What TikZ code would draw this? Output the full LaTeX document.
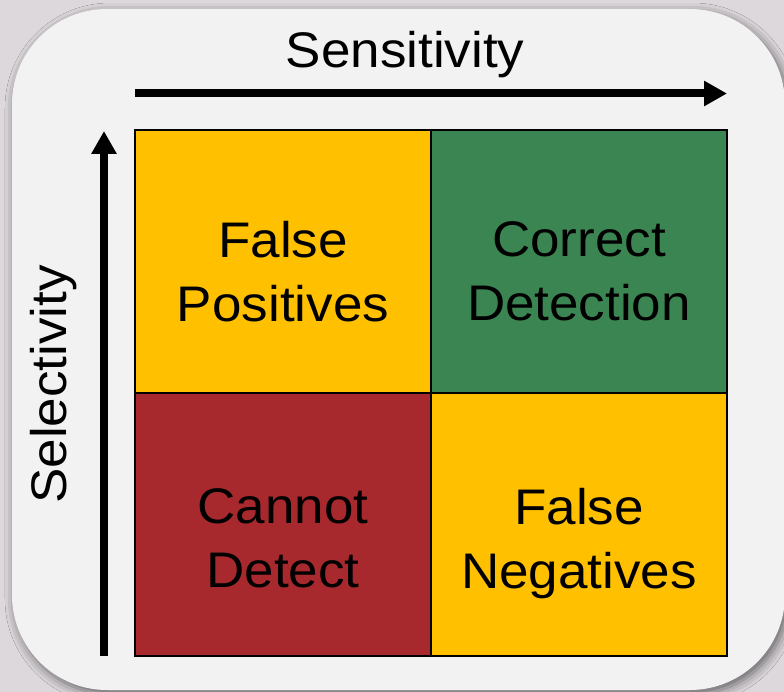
\documentclass[tikz,border=0pt]{standalone}
\usepackage{fontspec}
\setmainfont{Liberation Sans}[FakeStretch=1.06]
\usepackage{tikz}
\usetikzlibrary{positioning}
\usetikzlibrary{arrows.meta}
\usetikzlibrary{shadows.blur}
\definecolor{pagegray}{RGB}{220,216,220}
\definecolor{cardgray}{RGB}{242,242,242}
\definecolor{amber}{RGB}{255,192,0}
\definecolor{okgreen}{RGB}{59,133,83}
\definecolor{badred}{RGB}{168,41,45}
\tikzset{
  mycard/.style={
    draw=none,
    fill=cardgray,
    shape=rectangle,
    rounded corners=95pt,
    minimum width=773pt,
    minimum height=681pt,
    blur shadow={shadow xshift=3pt, shadow yshift=-4pt, shadow blur radius=10pt, shadow opacity=55},
  },
  mycell/.style={
    draw=black,
    line width=1.5pt,
    shape=rectangle,
    inner sep=0pt,
    outer sep=0pt,
    minimum width=296pt,
    minimum height=263pt,
  },
  mytext/.style={
    align=center,
    text depth=0pt,
    inner sep=0pt,
    font=\fontsize{50}{64}\selectfont,
  },
  myaxis/.style={
    inner sep=0pt,
    font=\fontsize{50}{64}\selectfont,
  },
  myarrow/.style={
    draw=black,
    line width=8pt,
    -{Triangle[length=23pt,width=24pt]},
  },
}

\begin{document}
\begin{tikzpicture}[x=1pt, y=-1pt]
    \fill[pagegray] (0,0) rectangle (784,692);
    \useasboundingbox (0,0) rectangle (784,692);
    \node[mycard] (card) at (398.5,349.5) {};

    \node[mycell, fill=amber]   (fpos) at (283,261.5)        {};
    \node[mycell, fill=okgreen] (good) [right=0pt of fpos]   {};
    \node[mycell, fill=badred]  (miss) [below=0pt of fpos]   {};
    \node[mycell, fill=amber]   (fneg) [below=0pt of good]   {};

    \node[mytext] (fpostext) at ([yshift=-10pt]fpos.center) {False\\Positives};
    \node[mytext] (goodtext) at ([yshift=-10pt]good.center) {Correct\\Detection};
    \node[mytext] (misstext) at ([yshift=-14pt]miss.center) {Cannot\\Detect};
    \node[mytext] (fnegtext) at ([yshift=-14pt]fneg.center) {False\\Negatives};

    \coordinate (senstail) at ([yshift=36.5pt]fpos.north west);
    \coordinate (senstip)  at ([yshift=36.5pt]good.north east);
    \draw[myarrow] (senstail) -- (senstip);
    \node[myaxis, anchor=base] (sens) at (405,68) {Sensitivity};

    \coordinate (seltail) at ([xshift=-31pt]miss.south west);
    \coordinate (seltip)  at ([xshift=-31pt,yshift=-1pt]fpos.north west);
    \draw[myarrow] (seltail) -- (seltip);
    \node[myaxis, rotate=90, anchor=base] (sel) at (66,384.5) {Selectivity};
\end{tikzpicture}
\end{document}
